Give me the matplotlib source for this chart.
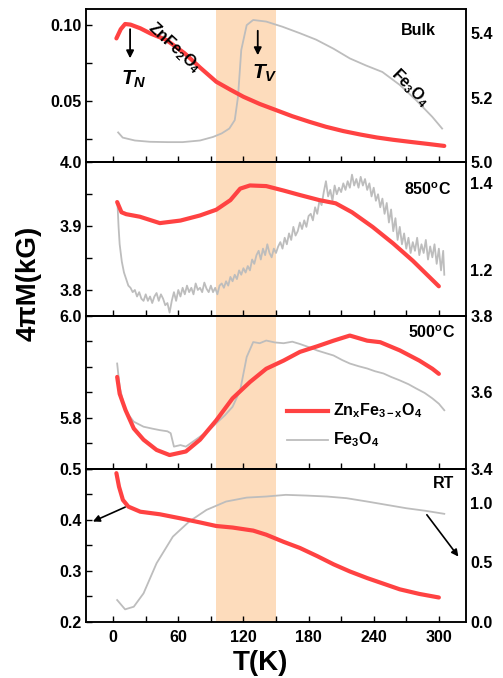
import numpy as np
import matplotlib
matplotlib.use("Agg")
import matplotlib.pyplot as plt
from matplotlib.ticker import MultipleLocator

plt.rcParams['font.family'] = ['Liberation Sans', 'DejaVu Sans']
plt.rcParams['font.weight'] = 'bold'
plt.rcParams['mathtext.fontset'] = 'custom'
plt.rcParams['mathtext.rm'] = 'Liberation Sans:bold'
plt.rcParams['mathtext.it'] = 'Liberation Sans:bold:italic'
plt.rcParams['mathtext.bf'] = 'Liberation Sans:bold'

RED = '#ff4242'
GRAY = '#bdbdbd'
BAND = '#fddcbc'

# ---- Bulk ----
bulk_zn_T = [3, 7, 11, 16, 25, 35, 49, 66, 80, 95, 108, 120, 135, 150, 165, 181, 196, 212, 228, 243, 258, 273, 290, 305]
bulk_zn_M = [0.091, 0.097, 0.1004, 0.100, 0.0976, 0.094, 0.090, 0.0812, 0.072, 0.0627, 0.0575, 0.0529, 0.0482, 0.0442, 0.0402, 0.0365, 0.0333, 0.0305, 0.0282, 0.0263, 0.0248, 0.0235, 0.0221, 0.0208]
bulk_fe_T = [4.6, 8.8, 20, 34, 50, 64, 80, 92, 100, 107, 112, 115, 118, 123, 129, 141, 156, 172, 187, 203, 218, 233, 248, 264, 279, 294, 303]
bulk_fe_M = [5.093, 5.077, 5.068, 5.064, 5.063, 5.063, 5.068, 5.079, 5.090, 5.105, 5.131, 5.203, 5.348, 5.425, 5.441, 5.436, 5.420, 5.400, 5.380, 5.352, 5.322, 5.300, 5.280, 5.240, 5.193, 5.141, 5.105]

# ---- 850 C ----
a850_zn_T = [3.7, 7.7, 12, 24.6, 43, 62, 80, 95, 108, 117, 126, 141, 157, 172, 190, 205, 220, 239, 258, 276, 288, 300]
a850_zn_M = [3.938, 3.922, 3.919, 3.915, 3.905, 3.909, 3.917, 3.926, 3.941, 3.959, 3.964, 3.963, 3.956, 3.949, 3.941, 3.936, 3.922, 3.899, 3.873, 3.846, 3.826, 3.806]
a850_fe_T = [4, 5, 6, 8, 10, 12, 14, 16, 18, 20, 22, 24, 26, 28, 30, 32, 34, 36, 38, 40,
             42, 44, 46, 48, 50, 52, 54, 56, 58, 60, 62, 64, 66, 68, 70, 72, 74, 76, 78, 80,
             82, 84, 86, 88, 90, 92, 94, 96, 98, 100, 102, 104, 106, 108, 110, 112, 114, 116, 118, 120,
             122, 124, 126, 128, 130, 132, 134, 136, 138, 140, 142, 144, 146, 148, 150, 152, 154, 156, 158, 160,
             162, 164, 166, 168, 170, 172, 174, 176, 178, 180, 182, 184, 186, 188, 190, 192, 194, 196, 198, 200,
             202, 204, 206, 208, 210, 212, 214, 216, 218, 220, 222, 224, 226, 228, 230, 232, 234, 236, 238, 240,
             242, 244, 246, 248, 250, 252, 254, 256, 258, 260, 262, 264, 266, 268, 270, 272, 274, 276, 278, 280,
             282, 284, 286, 288, 290, 292, 294, 296, 298, 300, 302, 304, 305]
a850_fe_M = [1.353, 1.30, 1.26, 1.22, 1.195, 1.18, 1.165, 1.16, 1.15, 1.155, 1.14, 1.15, 1.135, 1.13, 1.145, 1.13, 1.14, 1.125, 1.14, 1.148,
             1.13, 1.145, 1.135, 1.12, 1.125, 1.103, 1.13, 1.15, 1.13, 1.155, 1.14, 1.16, 1.145, 1.165, 1.15, 1.16, 1.145, 1.17, 1.155, 1.16,
             1.15, 1.172, 1.158, 1.15, 1.165, 1.15, 1.16, 1.145, 1.165, 1.17, 1.16, 1.175, 1.165, 1.185, 1.175, 1.19, 1.18, 1.20, 1.19, 1.205,
             1.195, 1.21, 1.20, 1.225, 1.215, 1.235, 1.245, 1.225, 1.25, 1.235, 1.26, 1.24, 1.23, 1.25, 1.24, 1.255, 1.265, 1.25, 1.275, 1.26,
             1.285, 1.27, 1.30, 1.28, 1.29, 1.31, 1.295, 1.315, 1.30, 1.325, 1.33, 1.315, 1.345, 1.33, 1.36, 1.35, 1.38, 1.405, 1.37, 1.385,
             1.36, 1.395, 1.375, 1.39, 1.38, 1.40, 1.385, 1.405, 1.39, 1.42, 1.395, 1.41, 1.39, 1.415, 1.395, 1.41, 1.385, 1.40, 1.37, 1.39,
             1.36, 1.375, 1.345, 1.365, 1.33, 1.355, 1.31, 1.34, 1.29, 1.32, 1.27, 1.30, 1.26, 1.285, 1.25, 1.275, 1.24, 1.265, 1.245, 1.275,
             1.235, 1.26, 1.24, 1.27, 1.225, 1.255, 1.23, 1.26, 1.215, 1.25, 1.20, 1.245, 1.19]

# ---- 500 C ----
a500_zn_T = [3.7, 6, 11.4, 19, 28, 40, 52, 67, 80, 95, 110, 126, 141, 157, 172, 188, 203, 218, 234, 246, 264, 282, 294, 300]
a500_zn_M = [5.880, 5.847, 5.815, 5.779, 5.757, 5.737, 5.727, 5.734, 5.757, 5.795, 5.838, 5.870, 5.896, 5.912, 5.929, 5.940, 5.951, 5.961, 5.951, 5.948, 5.932, 5.912, 5.896, 5.886]
a500_fe_T = [3.7, 6, 11, 19, 28, 36, 43, 50, 53, 56, 62, 67, 73, 80, 88, 95, 103, 110, 117, 123, 129, 135, 141, 149, 157, 165, 172, 180, 188, 196, 203, 211, 218, 226, 234, 241, 249, 256, 264, 272, 279, 287, 294, 300, 305]
a500_fe_M = [3.675, 3.614, 3.553, 3.523, 3.510, 3.505, 3.501, 3.498, 3.493, 3.458, 3.462, 3.458, 3.470, 3.484, 3.500, 3.519, 3.540, 3.562, 3.605, 3.692, 3.731, 3.728, 3.735, 3.730, 3.728, 3.732, 3.726, 3.718, 3.709, 3.702, 3.696, 3.684, 3.675, 3.668, 3.662, 3.655, 3.649, 3.640, 3.631, 3.621, 3.610, 3.598, 3.584, 3.570, 3.553]

# ---- RT ----
rt_zn_T = [3, 5.4, 9, 14, 25, 43, 62, 80, 95, 110, 129, 141, 157, 172, 188, 203, 218, 234, 249, 264, 282, 300]
rt_zn_M = [0.4915, 0.465, 0.439, 0.426, 0.416, 0.411, 0.403, 0.395, 0.388, 0.385, 0.379, 0.371, 0.357, 0.345, 0.329, 0.313, 0.299, 0.286, 0.275, 0.264, 0.255, 0.248]
rt_fe_T = [3.7, 11, 19, 28, 40, 55, 70, 86, 104, 123, 141, 159, 178, 197, 215, 234, 252, 270, 288, 305]
rt_fe_M = [0.184, 0.106, 0.128, 0.24, 0.492, 0.715, 0.841, 0.939, 1.009, 1.042, 1.051, 1.065, 1.059, 1.051, 1.037, 1.009, 0.981, 0.953, 0.931, 0.906]

panels = [
    dict(zn=(bulk_zn_T, bulk_zn_M), fe=(bulk_fe_T, bulk_fe_M), lylim=(0.01, 0.11), lticks=[0.05, 0.10], lminor=0.025,
         lfmt='{:.2f}', rylim=(5.0, 5.474), rticks=[5.0, 5.2, 5.4], label='Bulk', lpos=(0.874, 0.86)),
    dict(zn=(a850_zn_T, a850_zn_M), fe=(a850_fe_T, a850_fe_M), lylim=(3.76, 4.0), lticks=[3.8, 3.9, 4.0], lminor=0.05,
         lfmt='{:.1f}', rylim=(1.096, 1.448), rticks=[1.2, 1.4], label=r'850$^{\mathrm{o}}$C', lpos=(0.9, 0.82)),
    dict(zn=(a500_zn_T, a500_zn_M), fe=(a500_fe_T, a500_fe_M), lylim=(5.70, 6.0), lticks=[5.8, 6.0], lminor=0.05,
         lfmt='{:.1f}', rylim=(3.4, 3.8), rticks=[3.4, 3.6, 3.8], label=r'500$^{\mathrm{o}}$C', lpos=(0.91, 0.89)),
    dict(zn=(rt_zn_T, rt_zn_M), fe=(rt_fe_T, rt_fe_M), lylim=(0.2, 0.5), lticks=[0.2, 0.3, 0.4, 0.5], lminor=0.05,
         lfmt='{:.1f}', rylim=(0.0, 1.283), rticks=[0.0, 0.5, 1.0], label='RT', lpos=(0.94, 0.905)),
]

W, H = 503, 678
fig = plt.figure(figsize=(W / 100, H / 100), dpi=100)
left, right, top, bottom = 86, 466, 9.3, 622
ph = (bottom - top) / 4

axes = []
for i, p in enumerate(panels):
    ytop = top + i * ph
    ax = fig.add_axes([left / W, 1 - (ytop + ph) / H, (right - left) / W, ph / H])
    ax2 = ax.twinx()
    ax.set_zorder(ax2.get_zorder() + 1)
    ax.patch.set_visible(False)
    ax2.axvspan(95, 150, color=BAND, lw=0, zorder=0)
    ax2.plot(*p['fe'], color=GRAY, lw=1.3, zorder=2)
    ax.plot(*p['zn'], color=RED, lw=3.0, solid_capstyle='round')
    ax.set_xlim(-25, 325)
    ax.set_ylim(*p['lylim'])
    ax2.set_ylim(*p['rylim'])
    ax.set_yticks(p['lticks'])
    ax.set_yticklabels([p['lfmt'].format(v) for v in p['lticks']])
    ax.yaxis.set_minor_locator(MultipleLocator(p['lminor']))
    ax2.set_yticks(p['rticks'])
    ax2.set_yticklabels(['{:.1f}'.format(v) for v in p['rticks']])
    ax.xaxis.set_major_locator(MultipleLocator(60))
    ax.xaxis.set_minor_locator(MultipleLocator(30))
    ax.tick_params(axis='both', which='both', direction='in', length=4, width=1, labelsize=11.5, pad=3,
                   top=False, right=False)
    ax2.tick_params(axis='y', which='both', length=0, labelsize=11.5, pad=3)
    for a in (ax, ax2):
        for s in a.spines.values():
            s.set_linewidth(1.1)
    if i < 3:
        ax.tick_params(axis='x', labelbottom=False)
    else:
        ax.tick_params(axis='x', pad=6)
    ax.text(p['lpos'][0], p['lpos'][1], p['label'], transform=ax.transAxes, ha='center', va='center',
            fontsize=11.5, fontweight='bold')
    axes.append((ax, ax2))

# Bulk panel annotations
ax = axes[0][0]
ax.text(0.232, 0.75, r'ZnFe$_2$O$_4$', transform=ax.transAxes, rotation=-43, ha='center', va='center',
        fontsize=11.5)
ax.text(0.853, 0.49, r'Fe$_3$O$_4$', transform=ax.transAxes, rotation=-45, ha='center', va='center',
        fontsize=11.5)
ax.text(0.126, 0.54, r'$T_N$', transform=ax.transAxes, ha='center', va='center', fontsize=15)
ax.text(0.47, 0.58, r'$T_V$', transform=ax.transAxes, ha='center', va='center', fontsize=15)
for x0, y1, y2 in [(0.116, 0.87, 0.68), (0.452, 0.86, 0.70)]:
    ax.annotate('', xy=(x0, y2), xytext=(x0, y1), xycoords='axes fraction',
                arrowprops=dict(arrowstyle='-|>', color='k', lw=1.3, mutation_scale=11,
                                shrinkA=0, shrinkB=0))

# 500 C legend
ax = axes[2][0]
ax.plot([0.528, 0.637], [0.38, 0.38], transform=ax.transAxes, color=RED, lw=3.0)
ax.plot([0.528, 0.637], [0.19, 0.19], transform=ax.transAxes, color=GRAY, lw=1.3)
ax.text(0.65, 0.38, r'Zn$_{\mathrm{x}}$Fe$_{\mathrm{3-x}}$O$_4$', transform=ax.transAxes, va='center', fontsize=11.5)
ax.text(0.65, 0.19, r'Fe$_3$O$_4$', transform=ax.transAxes, va='center', fontsize=11.5)

# RT arrows
ax = axes[3][0]
ax.annotate('', xy=(0.018, 0.656), xytext=(0.103, 0.75), xycoords='axes fraction',
            arrowprops=dict(arrowstyle='-|>', color='k', lw=1.2, mutation_scale=10, shrinkA=0, shrinkB=0))
ax.annotate('', xy=(0.98, 0.427), xytext=(0.897, 0.70), xycoords='axes fraction',
            arrowprops=dict(arrowstyle='-|>', color='k', lw=1.2, mutation_scale=10, shrinkA=0, shrinkB=0))
ax.set_xlabel('T(K)', fontsize=20, fontweight='bold')
ax.xaxis.set_label_coords(0.46, -0.18)
ax.xaxis.label.set_va('top')

fig.text(29 / W, 1 - 283 / H, '4\u03c0M(kG)', rotation=90, ha='center', va='center', fontsize=20,
         fontweight='bold')

fig.savefig('out.png', dpi=100)
